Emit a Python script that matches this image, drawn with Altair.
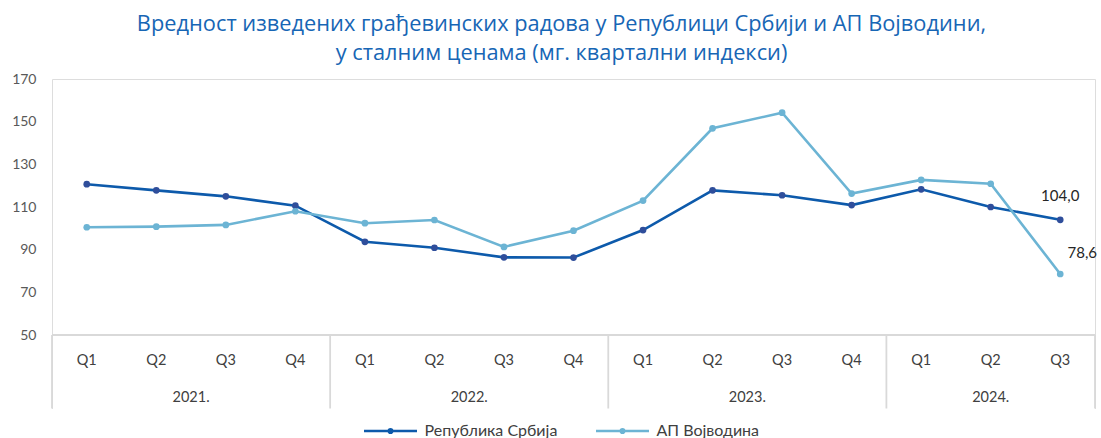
import altair as alt
import pandas as pd

title_lines = ["Вредност изведених грађевинских радова у Републици Србији и АП Војводини,",
               "у сталним ценама (мг. квартални индекси)"]
quarters = ["Q1", "Q2", "Q3", "Q4", "Q1", "Q2", "Q3", "Q4",
            "Q1", "Q2", "Q3", "Q4", "Q1", "Q2", "Q3"]
years = ["2021.", "2021.", "2021.", "2021.", "2022.", "2022.", "2022.", "2022.",
         "2023.", "2023.", "2023.", "2023.", "2024.", "2024.", "2024."]
series_names = ["Република Србија", "АП Војводина"]
srbija = [120.7, 117.8, 115.0, 110.6, 93.7, 90.9, 86.4, 86.3,
          99.2, 117.8, 115.5, 110.9, 118.3, 110.0, 104.0]
vojvodina = [100.5, 100.8, 101.6, 108.0, 102.4, 103.9, 91.3, 98.9,
             113.0, 146.9, 154.2, 116.3, 122.7, 120.9, 78.6]
line_colors = ["#0d5aab", "#6cb4d4"]
point_colors = ["#2f4e9b", "#6cb4d4"]
y_ticks = [50, 70, 90, 110, 130, 150, 170]

n = len(quarters)
rows = []
for name, vals in zip(series_names, [srbija, vojvodina]):
    for i, v in enumerate(vals):
        rows.append({"series": name, "x": i + 0.5, "v": v, "q": quarters[i], "yr": years[i],
                     "lab": f"{v:.1f}".replace(".", ",")})
df = pd.DataFrame(rows)

qdf = pd.DataFrame({"x": [i + 0.5 for i in range(n)], "q": quarters})
year_order = list(dict.fromkeys(years))
ydf = pd.DataFrame({
    "yr": year_order,
    "x": [(years.index(y) + (len(years) - years[::-1].index(y))) / 2 for y in year_order],
})
div_x = [0] + [years.index(y) for y in year_order[1:]] + [n]
VIEW_H = 359
YMIN = 170 - VIEW_H * 120 / 256
BOX_BOTTOM = 15.55
div_rows = []
for k, dx in enumerate(div_x):
    div_rows.append({"g": k, "x": dx, "y": 50})
    div_rows.append({"g": k, "x": dx, "y": BOX_BOTTOM})
ddf = pd.DataFrame(div_rows)
cover_df = pd.DataFrame({"x": [0, n], "ya": [BOX_BOTTOM - 0.2] * 2, "yb": [YMIN - 5] * 2})

xs = alt.Scale(domain=[0, n])
ys = alt.Scale(domain=[YMIN, 170], nice=False, zero=False)
FONT = "Lato, 'Noto Sans', sans-serif"

stroke_scale = alt.Scale(domain=series_names, range=line_colors)
fill_scale = alt.Scale(domain=series_names, range=point_colors)

base = alt.Chart(df)
X = alt.X("x:Q", scale=xs, axis=None)

legend_path = "M-1,0L1,0M-0.07,0A0.07,0.07,0,1,1,0.07,0A0.07,0.07,0,1,1,-0.07,0Z"
leg = alt.Legend(orient="none", legendX=310.5, legendY=324, direction="horizontal",
                 title=None, symbolType=legend_path, symbolSize=2809, symbolStrokeWidth=2.5,
                 labelFont=FONT, labelFontSize=16, labelColor="#404040", labelOffset=6,
                 columnPadding=33, padding=0)

lines = base.mark_line(strokeWidth=2.6).encode(
    x=X,
    y=alt.Y("v:Q", scale=ys, title=None,
            axis=alt.Axis(values=y_ticks, grid=False, domain=False, ticks=False,
                          labelFont=FONT, labelFontSize=14, labelColor="#595959",
                          labelPadding=16)),
    stroke=alt.Stroke("series:N", scale=stroke_scale, legend=leg),
)
points = base.mark_point(filled=True, size=45, opacity=1).encode(
    x=X, y=alt.Y("v:Q", scale=ys),
    fill=alt.Fill("series:N", scale=fill_scale, legend=None),
)

last = df[df["x"] == n - 0.5]
lab1 = alt.Chart(last[last["series"] == series_names[0]]).mark_text(
    font=FONT, fontSize=15, color="#262626", dy=-24).encode(
    x=X, y=alt.Y("v:Q", scale=ys), text="lab:N")
lab2 = alt.Chart(last[last["series"] == series_names[1]]).mark_text(
    font=FONT, fontSize=15, color="#262626", dy=-21, dx=22).encode(
    x=X, y=alt.Y("v:Q", scale=ys), text="lab:N")

top_rule = alt.Chart(pd.DataFrame({"x": [0], "x2": [n], "ya": [50]})).mark_rule(
    color="#d9d9d9", strokeWidth=1.8).encode(
    x=X, x2="x2:Q", y=alt.Y("ya:Q", scale=ys))
div_lines = alt.Chart(ddf).mark_line(color="#d9d9d9", strokeWidth=1.8).encode(
    x=X, y=alt.Y("y:Q", scale=ys), detail="g:N")
cover = alt.Chart(cover_df).mark_rule(color="white", strokeWidth=4).encode(
    x=X, y=alt.Y("ya:Q", scale=ys), y2="yb:Q")
q_text = alt.Chart(qdf).mark_text(font=FONT, fontSize=14.5, color="#404040").encode(
    x=X, y=alt.datum(37.8, scale=ys), text="q:N")
y_text = alt.Chart(ydf).mark_text(font=FONT, fontSize=14.5, color="#404040").encode(
    x=X, y=alt.datum(20.5, scale=ys), text="yr:N")

chart = alt.layer(top_rule, div_lines, cover, q_text, y_text, lines, points, lab1, lab2).resolve_scale(
    stroke="shared", fill="shared"
).properties(
    width=1043, height=VIEW_H,
    padding={"left": 52, "top": 79, "right": 6, "bottom": 0},
    autosize=alt.AutoSizeParams(type="none"),
    title=alt.TitleParams(title_lines, anchor="middle", font="'Open Sans', sans-serif",
                          fontSize=21.8, fontWeight="normal", color="#1766b5",
                          lineHeight=29, offset=7, dx=-12),
).configure_view(stroke=None, strokeWidth=0).configure_axisX(
    domain=False, ticks=False, labels=False, grid=False
).configure(background="white")

chart.save("out.html", embed_options={"renderer": "svg", "actions": False})
